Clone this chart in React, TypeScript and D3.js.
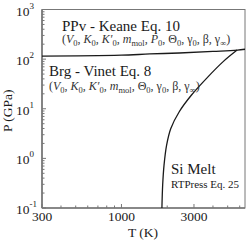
import React from 'react';
import * as d3 from 'd3';

// phase boundary PPv / Brg (T in K, P in GPa)
const boundaryT = [300, 1000, 1540, 2400, 4000, 5800, 6500];
const boundaryP = [115, 120, 127, 133, 143, 152, 158];

// melting curve
const meltT = [1846, 1867, 1906, 1982, 2112, 2400, 2890, 3630, 4670, 5770];
const meltP = [0.1, 0.29, 0.73, 1.85, 4.0, 8.7, 18.9, 41, 89, 152];

const xMajor = [300, 1000, 3000];
const xMinor = [400, 500, 600, 700, 800, 900, 2000, 4000, 5000, 6000];
const yMajor = [0.1, 1, 10, 100, 1000];
const yExp = ['-1', '0', '1', '2', '3'];

const ppvParams: [string, string][] = [
  ['V', '0'], ['K', '0'], ["K′", '0'], ['m', 'mol'], ['P', '0'],
  ['Θ', '0'], ['γ', '0'], ['β', ''], ['γ', '∞'],
];
const brgParams: [string, string][] = [
  ['V', '0'], ['K', '0'], ["K′", '0'], ['m', 'mol'],
  ['Θ', '0'], ['γ', '0'], ['β', ''], ['γ', '∞'],
];

const W = 250;
const H = 241;
const left = 42;
const right = 245;
const top = 9.5;
const bottom = 208;
const serif = 'Liberation Serif, DejaVu Serif, serif';
const ink = '#1a1a1a';
const axisColor = '#777';

function ParamLine({ x, y, items }: { x: number; y: number; items: [string, string][] }) {
  const parts: React.ReactNode[] = [];
  items.forEach(([sym, sub], i) => {
    const italic = /[A-Za-z]/.test(sym);
    parts.push(
      <tspan key={'s' + i} fontStyle={italic ? 'italic' : 'normal'}>{sym}</tspan>
    );
    if (sub) {
      parts.push(
        <tspan key={'b' + i} dy={2.5} fontSize={8.5}>{sub}</tspan>
      );
    }
    const tail = i < items.length - 1 ? ', ' : ')';
    parts.push(
      <tspan key={'c' + i} dy={sub ? -2.5 : 0}>{tail}</tspan>
    );
  });
  return (
    <text x={x} y={y} fontFamily={serif} fontSize={12} fill="#333">
      (
      {parts}
    </text>
  );
}

export default function App() {
  const x = d3.scaleLog().domain([300, 6500]).range([left, right]);
  const y = d3.scaleLog().domain([0.1, 1000]).range([bottom, top]);

  const boundary = d3
    .line<number>()
    .x((d, i) => x(boundaryT[i]))
    .y((d) => y(d))
    .curve(d3.curveMonotoneX);

  const melt = d3
    .line<number>()
    .x((d, i) => x(meltT[i]))
    .y((d) => y(d))
    .curve(d3.curveCatmullRom);

  const yMinor: number[] = [];
  for (let e = -1; e < 3; e++) {
    for (let k = 2; k < 10; k++) yMinor.push(k * Math.pow(10, e));
  }

  return (
    <svg
      width={W}
      height={H}
      style={{ position: 'absolute', left: 0, top: 0, background: '#fff' }}
    >
      {/* frame */}
      <rect x={left} y={top} width={right - left} height={bottom - top} fill="none" stroke={axisColor} strokeWidth={1} />
      <line x1={left} x2={left} y1={top} y2={bottom} stroke={axisColor} strokeWidth={1.6} />
      <line x1={left} x2={right} y1={bottom} y2={bottom} stroke={axisColor} strokeWidth={1.6} />

      {/* x ticks */}
      {xMajor.map((t) => (
        <line key={'xm' + t} x1={x(t)} x2={x(t)} y1={bottom} y2={bottom - 4} stroke={axisColor} />
      ))}
      {xMinor.map((t) => (
        <line key={'xn' + t} x1={x(t)} x2={x(t)} y1={bottom} y2={bottom - 2.5} stroke={axisColor} />
      ))}
      {xMajor.map((t) => (
        <text key={'xl' + t} x={x(t)} y={221} textAnchor="middle" fontFamily={serif} fontSize={13.5} fill={ink}>
          {t}
        </text>
      ))}

      {/* y ticks */}
      {yMajor.map((t) => (
        <line key={'ym' + t} x1={left} x2={left + 4} y1={y(t)} y2={y(t)} stroke={axisColor} />
      ))}
      {yMinor.map((t) => (
        <line key={'yn' + t} x1={left} x2={left + 2.5} y1={y(t)} y2={y(t)} stroke={axisColor} />
      ))}
      {yMajor.map((t, i) => (
        <text key={'yl' + t} x={16} y={y(t) + 6} fontFamily={serif} fontSize={13.5} fill={ink}>
          10
          <tspan dy={-7} fontSize={9}>{yExp[i]}</tspan>
        </text>
      ))}

      {/* axis titles */}
      <text x={143} y={237} textAnchor="middle" fontFamily={serif} fontSize={13.5} fill={ink}>
        T (K)
      </text>
      <text
        transform={`translate(12, ${(top + bottom) / 2 + 2}) rotate(-90)`}
        textAnchor="middle"
        fontFamily={serif}
        fontSize={13.5}
        fill={ink}
      >
        P (GPa)
      </text>

      {/* curves */}
      <path d={boundary(boundaryP) || ''} fill="none" stroke={ink} strokeWidth={1.3} />
      <path d={melt(meltP) || ''} fill="none" stroke={ink} strokeWidth={1.3} />

      {/* region labels */}
      <text x={62} y={31} fontFamily={serif} fontSize={15} fill={ink}>PPv - Keane Eq. 10</text>
      <ParamLine x={62} y={43} items={ppvParams} />
      <text x={49} y={76} fontFamily={serif} fontSize={15} fill={ink}>Brg - Vinet Eq. 8</text>
      <ParamLine x={49} y={90} items={brgParams} />
      <text x={171} y={174} fontFamily={serif} fontSize={15} fill={ink}>Si Melt</text>
      <text x={171} y={188} fontFamily={serif} fontSize={11} fill={ink}>RTPress Eq. 25</text>
    </svg>
  );
}
